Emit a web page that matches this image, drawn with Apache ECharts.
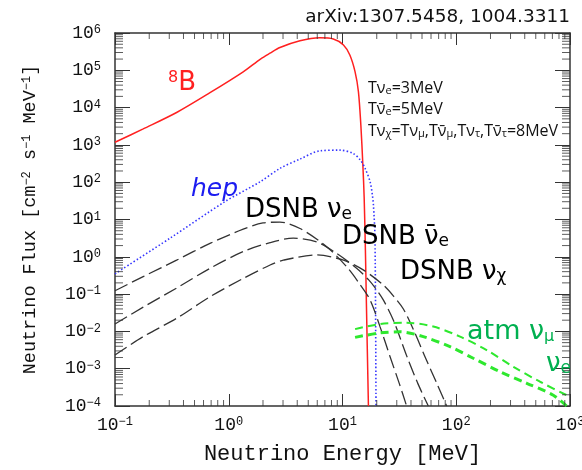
<!DOCTYPE html>
<html><head><meta charset="utf-8">
<script src="https://cdn.jsdelivr.net/npm/echarts@6/dist/echarts.min.js"></script>
<style>html,body{margin:0;padding:0;background:#fff}#c{width:582px;height:470px}</style>
</head><body><div id="c"></div>
<script>
// ---------- data ----------
const b8Energy = [0.1, 0.177, 0.348, 0.684, 1.34, 1.9, 2.31, 2.82, 4.23, 6.31, 8.3, 10.2, 11.6, 12.9, 13.8, 14.5, 15.1, 15.5, 15.9, 16.2, 16.9];
const b8Flux   = [1175, 2690, 7400, 25100, 91000, 200000, 288000, 407000, 617000, 741000, 692000, 479000, 257000, 91000, 26900, 3390, 288, 40, 1.5, 0.07, 0.0001];

const hepEnergy = [0.1, 0.305, 0.927, 1.88, 2.82, 4.23, 6.31, 9.51, 12.4, 14.3, 15.8, 17.5, 18.3, 18.7, 19.3, 19.7];
const hepFlux   = [0.35, 3.16, 30.2, 102, 234, 417, 692, 724, 589, 398, 234, 102, 45.7, 24.5, 3.16, 0.0001];

const dsnbNueEnergy = [0.1, 0.177, 0.348, 0.684, 1.34, 2.0, 2.82, 4.23, 7.26, 10.9, 14.1, 17.5, 21.4, 26.2, 31.6, 36.6];
const dsnbNueFlux   = [0.123, 0.295, 0.813, 2.29, 5.5, 8.13, 8.51, 5.75, 1.86, 0.537, 0.19, 0.0692, 0.0132, 0.00209, 0.000398, 0.0001];

const dsnbNuebarEnergy = [0.1, 0.177, 0.348, 0.684, 1.34, 2.31, 3.69, 5.93, 8.89, 13.3, 17.0, 20.0, 22.9, 28.2, 36.6, 45.7, 56.8];
const dsnbNuebarFlux   = [0.0158, 0.0447, 0.145, 0.49, 1.38, 2.4, 3.16, 2.51, 1.23, 0.49, 0.24, 0.129, 0.0692, 0.019, 0.00224, 0.000417, 0.0001];

const dsnbNuxEnergy = [0.1, 0.177, 0.348, 0.684, 1.34, 2.31, 3.02, 5.93, 10.2, 15.2, 22.9, 28.2, 34.3, 42.7, 53.1, 67.6, 82.4];
const dsnbNuxFlux   = [0.00234, 0.00724, 0.0224, 0.0851, 0.263, 0.603, 0.813, 1.12, 0.813, 0.447, 0.174, 0.0871, 0.0398, 0.01, 0.00209, 0.000398, 0.0001];

const atmNumuEnergy = [12.9, 21.4, 36.6, 62.8, 108, 185, 318, 545, 935, 1000];
const atmNumuFlux   = [0.0115, 0.0158, 0.017, 0.0135, 0.00724, 0.00316, 0.00112, 0.000447, 0.000195, 0.000178];

const atmNueEnergy = [12.9, 21.4, 32.0, 51.3, 88.1, 141, 243, 417, 713, 933];
const atmNueFlux   = [0.00692, 0.00912, 0.00977, 0.00724, 0.00389, 0.00191, 0.000832, 0.000407, 0.000195, 0.0001];

// axis ranges and tick labels (exponents of 10)
const xMin = 0.1, xMax = 1000;
const yMin = 1e-4, yMax = 1e6;
const xTickExponents = ['\u22121', '0', '1', '2', '3'];
const yTickExponents = ['\u22124', '\u22123', '\u22122', '\u22121', '0', '1', '2', '3', '4', '5', '6'];
const minorMultipliers = [2, 3, 4, 5, 6, 7, 8, 9];

// ---------- helpers ----------
const zip = (xs, ys) => xs.map((x, i) => [x, ys[i]]);
const decadeMinor = (lo, hi) => {
  const out = [];
  for (let e = lo; e < hi; e++) minorMultipliers.forEach(m => out.push(m * Math.pow(10, e)));
  return out;
};
const xMinor = decadeMinor(-1, 3);
const yMinor = decadeMinor(-4, 6);

const TICK_FONT = 'Liberation Mono';
const AX = '#333';
const tickRich = {
  m: { fontFamily: TICK_FONT, fontSize: 18, color: '#111' },
  s: { fontFamily: TICK_FONT, fontSize: 12, color: '#111', verticalAlign: 'top' }
};
const expFormatter = (labels, lo) => (v) => {
  const e = Math.round(Math.log10(v));
  const lab = labels[e - lo];
  return lab === undefined ? '' : '{m|10}{s|' + lab + '}';
};

const chart = echarts.init(document.getElementById('c'), null, { renderer: 'canvas' });

const baseX = {
  type: 'log', logBase: 10, min: xMin, max: xMax, interval: 1,
  axisLine: { show: true, lineStyle: { color: AX, width: 1.5 } },
  axisTick: { show: true, inside: true, length: 12, lineStyle: { color: AX, width: 1 } },
  splitLine: { show: false }
};
const baseY = {
  type: 'log', logBase: 10, min: yMin, max: yMax, interval: 1,
  axisLine: { show: true, lineStyle: { color: AX, width: 1.5 } },
  axisTick: { show: true, inside: true, length: 15, lineStyle: { color: AX, width: 1 } },
  splitLine: { show: false }
};

function lineSeries(name, xs, ys, color, width, dash) {
  return {
    name, type: 'line', data: zip(xs, ys), showSymbol: false, symbol: 'none',
    smooth: 0.3, clip: true, z: 3,
    lineStyle: { color, width, type: dash || 'solid' }
  };
}

// minor log ticks (2..9 per decade) drawn as tiny rect symbols on the frame
function minorTickSeries(points, size, offset) {
  return {
    type: 'scatter', data: points, symbol: 'rect', symbolSize: size, symbolOffset: offset,
    itemStyle: { color: AX }, silent: true, clip: false, z: 5,
    emphasis: { disabled: true }, tooltip: { show: false }
  };
}

const SANS = 'DejaVu Sans';
function txt(x, y, text, rich) {
  return {
    type: 'text', x, y, silent: true, z: 10,
    style: { text, rich, textAlign: 'left', textVerticalAlign: 'top' }
  };
}
const red = '#ff2020', blue = '#1c1cf0', grn = '#00b050';
const bigRich = (col, size, subSize) => ({
  b: { fontFamily: SANS, fontSize: size, fill: col, color: col },
  it: { fontFamily: SANS, fontSize: size, fontStyle: 'italic', fill: col, color: col },
  sub: { fontFamily: SANS, fontSize: subSize, fill: col, color: col, verticalAlign: 'bottom' },
  sup: { fontFamily: SANS, fontSize: subSize, fill: col, color: col, verticalAlign: 'top' }
});
const tRich = () => ({
  t: { fontFamily: 'Open Sans', fontSize: 16, fill: '#111' },
  sub: { fontFamily: 'Open Sans', fontSize: 11, fill: '#111', verticalAlign: 'bottom' }
});

const labels = [
  txt(168, 70, '{sup|8}{b|B}', bigRich(red, 26, 16)),
  txt(191, 177, '{it|hep}', bigRich(blue, 25, 16)),
  txt(245, 197, '{b|DSNB \u03bd}{sub|e}', bigRich('#000', 26, 17)),
  txt(342, 224, '{b|DSNB \u03bd\u0304}{sub|e}', bigRich('#000', 26, 17)),
  txt(400, 259, '{b|DSNB \u03bd}{sub|\u03c7}', bigRich('#000', 26, 17)),
  txt(467, 318, '{b|atm \u03bd}{sub|\u03bc}', bigRich(grn, 27, 16)),
  txt(546, 351, '{b|\u03bd}{sub|e}', bigRich(grn, 26, 17)),
  txt(368, 80, '{t|T\u03bd}{sub|e}{t|=3MeV}', tRich()),
  txt(368, 101, '{t|T\u03bd\u0304}{sub|e}{t|=5MeV}', tRich()),
  txt(368, 123, '{t|T\u03bd}{sub|\u03c7}{t|=T\u03bd}{sub|\u03bc}{t|,T\u03bd\u0304}{sub|\u03bc}{t|,T\u03bd}{sub|\u03c4}{t|,T\u03bd\u0304}{sub|\u03c4}{t|=8MeV}', tRich())
];

const option = {
  animation: false,
  backgroundColor: '#fff',
  title: {
    text: 'arXiv:1307.5458, 1004.3311', right: 12, top: 8, padding: 0,
    textStyle: { fontFamily: SANS, fontSize: 18.5, fontWeight: 'normal', color: '#111' }
  },
  grid: { left: 115, right: 12, top: 33, bottom: 64, containLabel: false, outerBoundsMode: 'none' },
  xAxis: [
    Object.assign({}, baseX, {
      position: 'bottom',
      name: 'Neutrino Energy [MeV]', nameLocation: 'middle', nameGap: 37,
      nameTextStyle: { fontFamily: TICK_FONT, fontSize: 22, color: '#111' },
      axisLabel: { show: true, margin: 10, formatter: expFormatter(xTickExponents, -1), rich: tickRich }
    }),
    Object.assign({}, baseX, { position: 'top', axisLabel: { show: false } })
  ],
  yAxis: [
    Object.assign({}, baseY, {
      position: 'left',
      name: 'Neutrino Flux [cm{s|\u22122} s{s|\u22121} MeV{s|\u22121}]', nameLocation: 'middle', nameGap: 75,
      nameTextStyle: {
        fontFamily: TICK_FONT, fontSize: 18.5, color: '#111',
        rich: { s: { fontFamily: TICK_FONT, fontSize: 12, color: '#111', verticalAlign: 'top' } }
      },
      axisLabel: { show: true, margin: 14, formatter: expFormatter(yTickExponents, -4), rich: tickRich }
    }),
    Object.assign({}, baseY, { position: 'right', axisLabel: { show: false } })
  ],
  series: [
    lineSeries('8B', b8Energy, b8Flux, red, 1.5),
    lineSeries('hep', hepEnergy, hepFlux, '#3535ff', 1.6, [1.5, 2.2]),
    lineSeries('DSNB nue', dsnbNueEnergy, dsnbNueFlux, '#333', 1.3, [14, 5]),
    lineSeries('DSNB nuebar', dsnbNuebarEnergy, dsnbNuebarFlux, '#333', 1.3, [14, 5]),
    lineSeries('DSNB nux', dsnbNuxEnergy, dsnbNuxFlux, '#333', 1.3, [14, 5]),
    lineSeries('atm numu', atmNumuEnergy, atmNumuFlux, '#2ee82e', 2, [8, 5]),
    lineSeries('atm nue', atmNueEnergy, atmNueFlux, '#2ee82e', 3, [8, 5]),
    minorTickSeries(xMinor.map(v => [v, yMin]), [1, 6], [0, -3]),
    minorTickSeries(xMinor.map(v => [v, yMax]), [1, 6], [0, 3]),
    minorTickSeries(yMinor.map(v => [xMin, v]), [8, 1], [4, 0]),
    minorTickSeries(yMinor.map(v => [xMax, v]), [8, 1], [-4, 0])
  ],
  graphic: labels
};
chart.setOption(option);
</script>
</body></html>
